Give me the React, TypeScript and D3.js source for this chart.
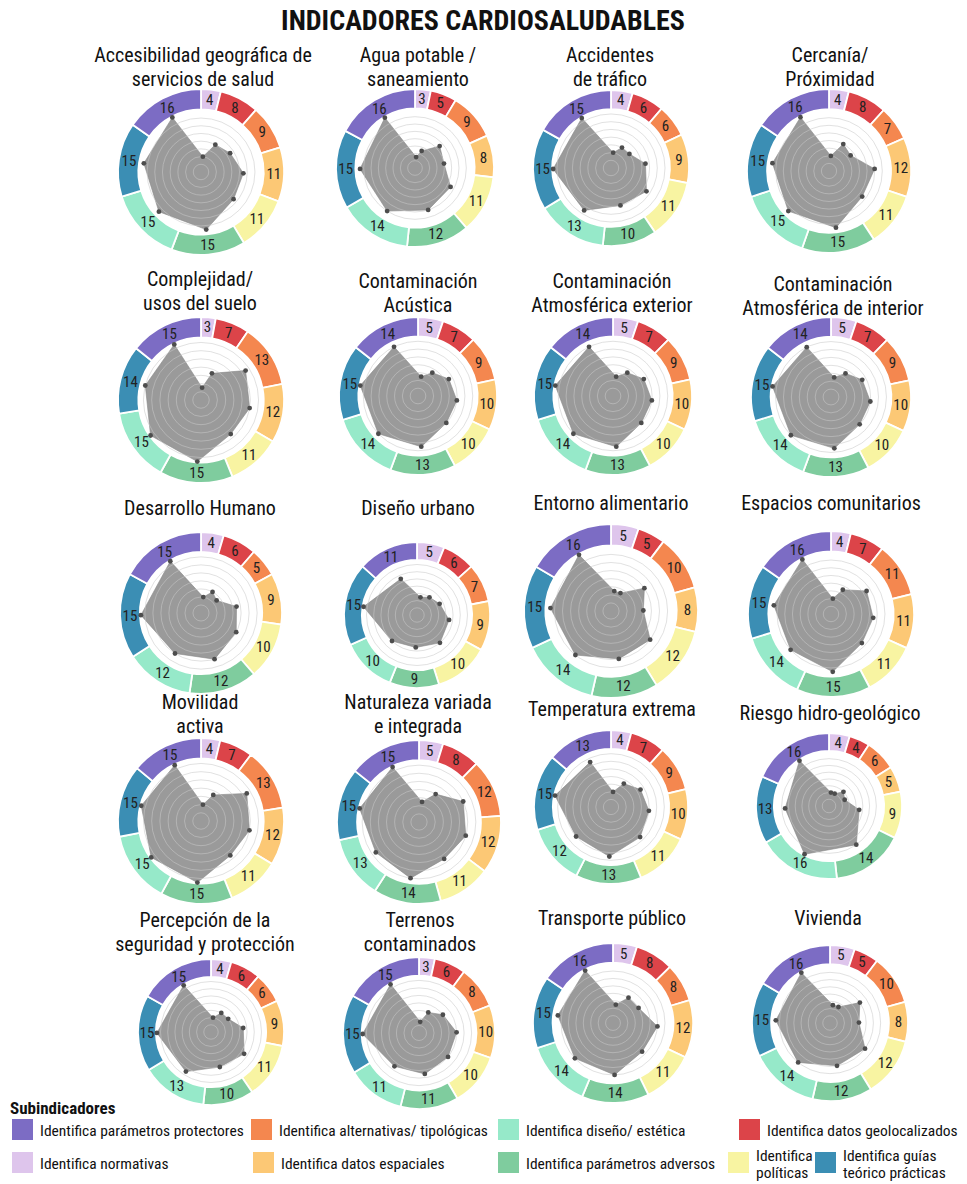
import * as d3 from "d3";

const FONT =
  "'Liberation Sans Narrow', 'Arial Narrow', 'Roboto Condensed', 'DejaVu Sans Condensed', sans-serif";

// ring order, clockwise from 12 o'clock
const subindicadores = [
  "Identifica normativas",
  "Identifica datos geolocalizados",
  "Identifica alternativas/ tipológicas",
  "Identifica datos espaciales",
  "Identifica políticas",
  "Identifica parámetros adversos",
  "Identifica diseño/ estética",
  "Identifica guías teórico prácticas",
  "Identifica parámetros protectores",
];
const colores = [
  "#dec5ec",
  "#dc4449",
  "#f4874f",
  "#fcc875",
  "#f8f4a2",
  "#7fcc9e",
  "#96e9c9",
  "#3b8eb4",
  "#7c6cc4",
];

const titulos = [
  ["Accesibilidad geográfica de", "servicios de salud"],
  ["Agua potable /", "saneamiento"],
  ["Accidentes", "de tráfico"],
  ["Cercanía/", "Próximidad"],
  ["Complejidad/", "usos del suelo"],
  ["Contaminación", "Acústica"],
  ["Contaminación", "Atmosférica exterior"],
  ["Contaminación", "Atmosférica de interior"],
  ["Desarrollo Humano"],
  ["Diseño urbano"],
  ["Entorno alimentario"],
  ["Espacios comunitarios"],
  ["Movilidad", "activa"],
  ["Naturaleza variada", "e integrada"],
  ["Temperatura extrema"],
  ["Riesgo hidro-geológico"],
  ["Percepción de la", "seguridad y protección"],
  ["Terrenos", "contaminados"],
  ["Transporte público"],
  ["Vivienda"],
];

const valores = [
  [4, 8, 9, 11, 11, 15, 15, 15, 16],
  [3, 5, 9, 8, 11, 12, 14, 15, 16],
  [4, 6, 6, 9, 11, 10, 13, 15, 15],
  [4, 8, 7, 12, 11, 15, 15, 15, 16],
  [3, 7, 13, 12, 11, 15, 15, 14, 15],
  [5, 7, 9, 10, 10, 13, 14, 15, 14],
  [5, 7, 9, 10, 10, 13, 14, 15, 14],
  [5, 7, 9, 10, 10, 13, 14, 15, 14],
  [4, 6, 5, 9, 10, 12, 12, 15, 15],
  [5, 6, 7, 9, 10, 9, 10, 15, 11],
  [5, 5, 10, 8, 12, 12, 14, 15, 16],
  [4, 7, 11, 11, 11, 15, 14, 15, 16],
  [4, 7, 13, 12, 11, 15, 15, 15, 15],
  [5, 8, 12, 12, 11, 14, 13, 15, 15],
  [4, 7, 9, 10, 11, 13, 12, 15, 13],
  [4, 4, 6, 5, 9, 14, 16, 13, 16],
  [4, 6, 6, 9, 11, 10, 13, 15, 15],
  [3, 6, 8, 10, 10, 11, 11, 15, 15],
  [5, 8, 8, 12, 11, 14, 14, 15, 16],
  [5, 5, 10, 8, 12, 12, 14, 15, 16],
];

// layout of the 20 small multiples
const centroX = [201, 415, 611, 829, 201, 418, 613, 831, 201, 417, 611, 831, 201, 419, 611, 829, 211, 419, 613, 830];
const centroY = [172, 168, 168, 171, 400, 396, 396, 397, 613, 615, 611, 614, 821, 822, 807, 806, 1032, 1033, 1023, 1023];
const radio = [83, 79, 78, 82, 83, 79, 79, 80, 81, 73, 87, 83, 83, 82, 77, 73, 73, 76, 80, 78];
const tituloX = [203, 418, 610, 830, 200, 418, 612, 833, 200, 418, 611, 831, 200, 418, 612, 830, 205, 420, 612, 828];
const tituloY = [55, 55, 55, 55, 279, 281, 281, 284, 508, 508, 503, 503, 702, 702, 709, 713, 920, 920, 918, 918];

// legend: [index in subindicadores, x, y]
const leyenda: [number, number, number][] = [
  [8, 12, 1129],
  [2, 251, 1129],
  [6, 498, 1129],
  [1, 739, 1129],
  [0, 12, 1162],
  [3, 253, 1162],
  [5, 498, 1162],
  [4, 728, 1162],
  [7, 815, 1162],
];

function Radar({ i }: { i: number }) {
  const vals = valores[i];
  const rOut = radio[i];
  const rIn = rOut * 0.755;
  const pie = d3.pie<number>().sort(null).value((d) => d);
  const arcs = pie(vals);
  const arc = d3.arc<d3.PieArcDatum<number>>().innerRadius(rIn).outerRadius(rOut);
  const max = d3.max(vals) as number;
  const r = d3.scaleLinear().domain([0, max]).range([0, rIn - 1]);
  const mid = (a: d3.PieArcDatum<number>) => (a.startAngle + a.endAngle) / 2;
  const line = d3
    .lineRadial<d3.PieArcDatum<number>>()
    .angle(mid)
    .radius((a) => r(a.data))
    .curve(d3.curveLinearClosed);
  const grid = d3.range(2, max, 2);
  return (
    <g transform={`translate(${centroX[i]},${centroY[i]})`}>
      {arcs.map((a, k) => (
        <path key={k} d={arc(a) || ""} fill={colores[a.index]} stroke="#fff" strokeWidth={1.8} />
      ))}
      {arcs.map((a, k) => {
        const [x, y] = arc.centroid(a);
        return (
          <text
            key={k}
            x={x}
            y={y}
            textAnchor="middle"
            dominantBaseline="central"
            fontSize={15}
            fill="#222"
          >
            {a.data}
          </text>
        );
      })}
      <path d={line(arcs) || ""} fill="#9a9a9a" stroke="#888" strokeWidth={0.6} />
      {grid.map((g) => (
        <circle key={g} r={r(g)} fill="none" stroke="#c8c8c8" strokeOpacity={0.55} strokeWidth={1} />
      ))}
      {arcs.map((a, k) => {
        const ang = mid(a);
        return (
          <circle
            key={k}
            cx={r(a.data) * Math.sin(ang)}
            cy={-r(a.data) * Math.cos(ang)}
            r={2.4}
            fill="#4d4d4d"
          />
        );
      })}
    </g>
  );
}

export default function App() {
  return (
    <svg
      width={967}
      height={1184}
      style={{ position: "absolute", left: 0, top: 0, background: "#fff" }}
      fontFamily={FONT}
    >
      <text x={483} y={20} textAnchor="middle" dominantBaseline="central" fontSize={28} fontWeight="bold" fill="#111">
        INDICADORES CARDIOSALUDABLES
      </text>
      {titulos.map((t, i) => (
        <text key={i} textAnchor="middle" fontSize={20} fill="#111">
          {t.map((l, j) => (
            <tspan key={j} x={tituloX[i]} y={tituloY[i] + j * 24} dominantBaseline="central">
              {l}
            </tspan>
          ))}
        </text>
      ))}
      {valores.map((_, i) => (
        <Radar key={i} i={i} />
      ))}
      <text x={10} y={1108} dominantBaseline="central" fontSize={17} fontWeight="bold" fill="#111">
        Subindicadores
      </text>
      {leyenda.map(([k, x, y]) => {
        const label = subindicadores[k];
        const lines =
          k === 4
            ? ["Identifica", "políticas"]
            : k === 7
            ? ["Identifica guías", "teórico prácticas"]
            : [label];
        return (
          <g key={k}>
            <rect x={x} y={y - 10} width={21} height={21} fill={colores[k]} />
            <text fontSize={15.5} fill="#111">
              {lines.map((l, j) => (
                <tspan key={j} x={x + 28} y={y - (lines.length - 1) * 8 + j * 17 + 2} dominantBaseline="central">
                  {l}
                </tspan>
              ))}
            </text>
          </g>
        );
      })}
    </svg>
  );
}
